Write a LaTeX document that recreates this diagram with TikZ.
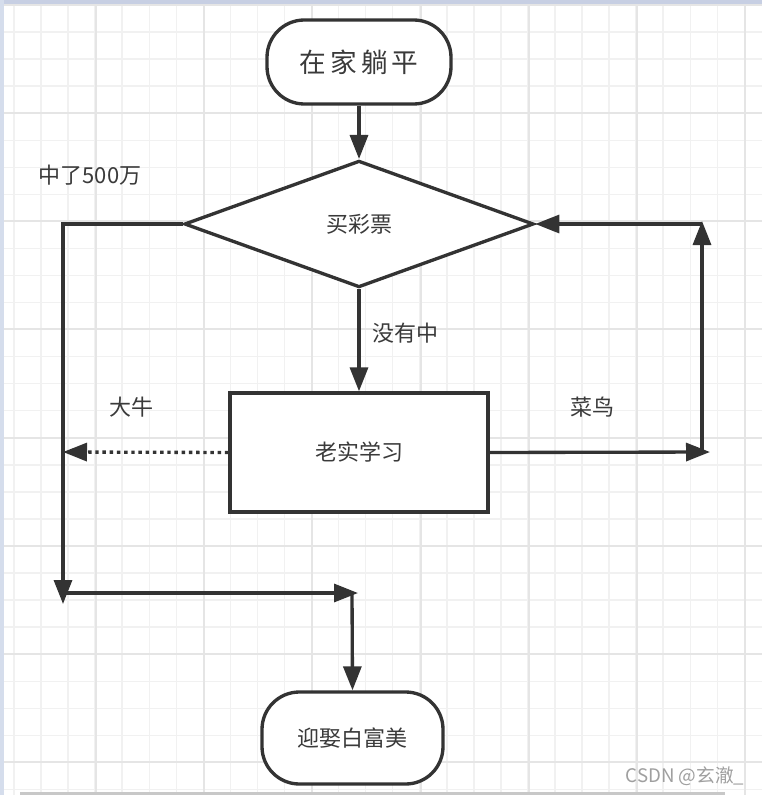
\documentclass[tikz,border=0pt]{standalone}
\usepackage{fontspec}
\setmainfont{Noto Sans CJK SC}
\usetikzlibrary{arrows.meta,shapes.geometric}
\definecolor{ink}{HTML}{333333}
\definecolor{txt}{HTML}{3A3A3A}
\definecolor{gridminor}{HTML}{F1F1F1}
\definecolor{gridmajor}{HTML}{E5E5E5}
\definecolor{topband}{HTML}{C7CFE3}
\definecolor{leftband}{HTML}{D5DDEC}
\definecolor{bottombar}{HTML}{C8C8C8}
\tikzset{
  shapeline/.style={draw=ink, line width=2.5pt, fill=white, text=txt, inner sep=0pt},
  terminal/.style={shapeline, rectangle, rounded corners=28pt},
  decision/.style={shapeline, diamond, aspect=2.8},
  process/.style={shapeline, rectangle},
  conn/.style={draw=ink, line width=2.5pt, -{Triangle[length=18pt,width=13.5pt]}},
  dotconn/.style={conn, dash pattern=on 2.6pt off 2.8pt},
  lbl/.style={text=txt, font=\fontsize{16.5pt}{19pt}\selectfont, inner sep=0pt},
  wmark/.style={text=gray!75, font=\fontsize{14pt}{16pt}\selectfont, inner sep=0pt}
}
\begin{document}
\begin{tikzpicture}[x=0.75pt,y=-0.75pt]
\useasboundingbox (0,0) rectangle (762,795);
\fill[white] (0,0) rectangle (762,795);
% grid
\foreach \i in {0,...,27} {\draw[gridminor, line width=1.1pt] ({14+27.05*\i},0) -- ++(0,795);}
\foreach \j in {0,...,29} {\draw[gridminor, line width=1.1pt] (0,{5+27.05*\j}) -- ++(762,0);}
\foreach \k in {0,...,6} {\draw[gridmajor, line width=1.5pt] ({96+108.2*\k},0) -- ++(0,795);}
\foreach \k in {0,...,7} {\draw[gridmajor, line width=1.5pt] (0,{4.8+108.2*\k}) -- ++(762,0);}
% bands
\fill[topband] (0,0) rectangle (762,4);
\fill[leftband] (0,0) rectangle (4,795);
\fill[bottombar] (20,792) rectangle (725,795);

% nodes
\node[terminal, minimum width=138pt, minimum height=63pt,
      font=\fontsize{20pt}{22pt}\selectfont] (start) at (359,62)
      {在\kern3pt家\kern3pt躺\kern3pt平};
\node[decision, minimum width=262pt, minimum height=95pt,
      font=\fontsize{16.5pt}{19pt}\selectfont] (dia) at (359,224) {买彩票};
\node[process, minimum width=193.5pt, minimum height=89.25pt,
      font=\fontsize{16.5pt}{19pt}\selectfont] (study) at (359,452.5) {老实学习};
\node[terminal, minimum width=135.75pt, minimum height=69pt,
      font=\fontsize{16.5pt}{19pt}\selectfont] (finish) at (352.5,738) {迎娶白富美};

% free ends
\coordinate (L1) at (63,224);
\coordinate (L2) at (63,604);
\coordinate (H1) at (63,593);
\coordinate (H2) at (358,593);
\coordinate (V1) at (352,593);
\coordinate (D1) at (63,452);
\coordinate (R1) at (710,452);
\coordinate (R2) at (702,452);
\coordinate (R3) at (702,221);
\coordinate (R4) at (702,224);

% connectors
\draw[conn] (start.south) -- (dia.north);
\draw[conn] (dia.west) -- (L1) -- (L2);
\draw[conn] (H1) -- (H2);
\draw[conn] (V1) -- (finish.north);
\draw[conn] (dia.south) -- (study.north);
\draw[dotconn] (study.west) -- (D1);
\draw[conn] (study.east) -- (R1);
\draw[conn] (R2) -- (R3);
\draw[conn] (R4) -- (dia.east);

% labels
\node[lbl] (win) at (90,175) {中了500万};
\node[lbl] (miss) at (405,333) {没有中};
\node[lbl] (pro) at (131,407) {大牛};
\node[lbl] (rookie) at (592,407) {菜鸟};
\node[wmark] (wm) at (685,776) {CSDN @玄澈\_};
\end{tikzpicture}
\end{document}
